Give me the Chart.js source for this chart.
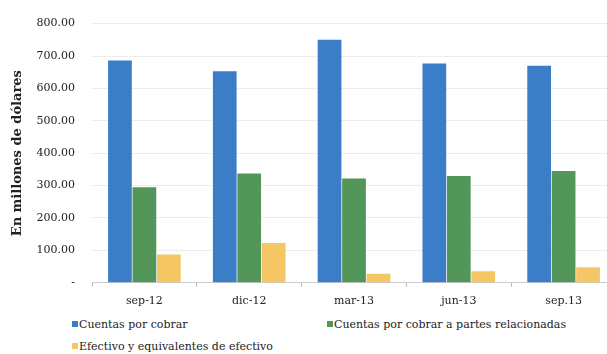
<!DOCTYPE html>
<html>
<head>
<meta charset="utf-8">
<script src="https://cdn.jsdelivr.net/npm/chart.js"></script>
<style>
  html, body { margin: 0; padding: 0; background: #fff; overflow: hidden; }
  .wrap { position: relative; width: 616px; height: 354px; }
  .chart-box { position: absolute; left: 0; top: 0; width: 616px; height: 316px; }
  .legend { position: absolute; font: 11px "DejaVu Serif", serif; color: #222; white-space: nowrap; }
  .legend i { display: inline-block; width: 6px; height: 6px; margin-right: 1px; vertical-align: 1px; }
</style>
</head>
<body>
<div class="wrap">
  <div class="chart-box"><canvas id="barChart"></canvas></div>
  <div id="legend"></div>
</div>
<script>
const categories = ['sep-12', 'dic-12', 'mar-13', 'jun-13', 'sep.13'];
const cuentasPorCobrar = [686, 653, 750, 677, 670];
const cuentasRelacionadas = [295, 337, 322, 330, 345];
const efectivo = [87, 123, 28, 36, 48];
const yTicks = [0, 100, 200, 300, 400, 500, 600, 700, 800];

const seriesNames = ['Cuentas por cobrar', 'Cuentas por cobrar a partes relacionadas', 'Efectivo  y equivalentes de efectivo'];
const seriesColors = ['#3b7dc6', '#52965a', '#f4c664'];

const font = { family: '"DejaVu Serif", serif', size: 11 };

// legend laid out like the original: two columns, two rows
const legendPos = [[72, 318], [327, 318], [72, 340]];
const legendEl = document.getElementById('legend');
seriesNames.forEach((name, i) => {
  const d = document.createElement('div');
  d.className = 'legend';
  d.style.left = legendPos[i][0] + 'px';
  d.style.top = legendPos[i][1] + 'px';
  d.innerHTML = `<i style="background:${seriesColors[i]}"></i>${name}`;
  legendEl.appendChild(d);
});

const ctx = document.getElementById('barChart').getContext('2d');
new Chart(ctx, {
  type: 'bar',
  data: {
    labels: categories,
    datasets: [cuentasPorCobrar, cuentasRelacionadas, efectivo].map((vals, i) => ({
      label: seriesNames[i],
      data: vals,
      backgroundColor: seriesColors[i],
      borderWidth: 0,
      categoryPercentage: 0.7,
      barPercentage: 0.97
    }))
  },
  options: {
    responsive: true,
    maintainAspectRatio: false,
    animation: false,
    layout: { padding: { left: 0, top: 8, right: 0, bottom: 0 } },
    plugins: { legend: { display: false }, tooltip: { enabled: false } },
    scales: {
      x: {
        grid: { drawOnChartArea: false, drawTicks: true, tickLength: 4, color: '#bbb' },
        border: { color: '#ccc' },
        ticks: { color: '#222', font: font, padding: 8 }
      },
      y: {
        min: 0,
        max: 800,
        afterBuildTicks: (axis) => { axis.ticks = yTicks.map(v => ({ value: v })); },
        afterFit: (axis) => { axis.width = 92; },
        grid: { color: '#ececec', drawTicks: false },
        border: { display: false },
        ticks: {
          color: '#222',
          font: font,
          padding: 17,
          callback: (v) => v === 0 ? '-' : Number(v).toFixed(2)
        },
        title: {
          display: true,
          text: 'En millones de dólares',
          color: '#222',
          font: { family: '"DejaVu Serif", serif', size: 13, weight: 'bold' },
          padding: { top: 10, bottom: 0 }
        }
      }
    }
  }
});
</script>
</body>
</html>
